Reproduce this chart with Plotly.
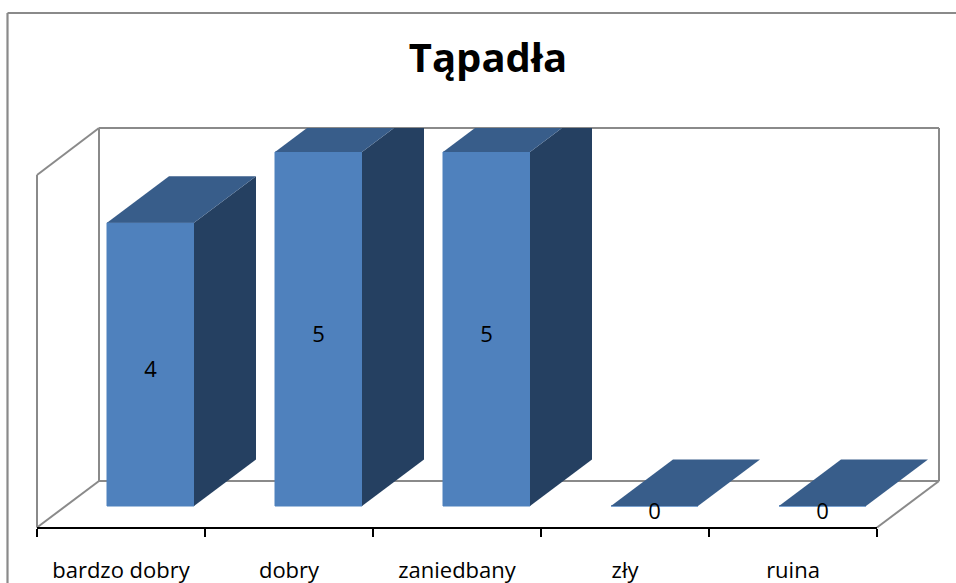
import plotly.graph_objects as go

categories = ["bardzo dobry", "dobry", "zaniedbany", "zły", "ruina"]
values = [4, 5, 5, 0, 0]
title_text = "Tąpadła"

W, H = 956, 583
FRONT_L, FRONT_R, BACK_R = 37, 877, 939
FLOOR_FRONT, FLOOR_BACK, TOP = 527.5, 481, 128
AXIS_PX = 526.5
WALL_L_TOP, BACK_L = 175, 99
BASE_PX, UNIT_PX = 506, 70.8
CAT_PX = (FRONT_R - FRONT_L) / 5
BAR_L_OFFSET, BAR_W = 70, 87
DX, DY = (BACK_R - FRONT_R) / CAT_PX, (FLOOR_FRONT - FLOOR_BACK) / UNIT_PX
GRAY = "#8a8a8a"
FRONT, TOPC, SIDE = "#4f81bd", "#385d8a", "#254061"
FONT = "Open Sans"

y_lo = -(AXIS_PX - BASE_PX) / UNIT_PX
y_hi = (BASE_PX - TOP) / UNIT_PX
x2_hi = (BACK_R - FRONT_L) / CAT_PX
bw = BAR_W / CAT_PX
bl = BAR_L_OFFSET / CAT_PX

fig = go.Figure()
# front faces, on the category axis
fig.add_trace(go.Bar(
    x=categories, y=values, width=bw, offset=bl - 0.5,
    marker=dict(color=FRONT, line=dict(color=FRONT, width=1)),
    xaxis="x", yaxis="y", showlegend=False, hoverinfo="skip",
))
# depth faces and labels, on a numeric overlay axis
for i, v in enumerate(values):
    x0, x1 = i + bl, i + bl + bw
    if v > 0:
        fig.add_trace(go.Scatter(
            x=[x1, x1 + DX, x1 + DX, x1, x1], y=[0, DY, v + DY, v, 0],
            fill="toself", fillcolor=SIDE, mode="lines", line=dict(width=0, color=SIDE),
            xaxis="x2", yaxis="y", showlegend=False, hoverinfo="skip"))
    fig.add_trace(go.Scatter(
        x=[x0, x0 + DX, x1 + DX, x1, x0], y=[v, v + DY, v + DY, v, v],
        fill="toself", fillcolor=TOPC, mode="lines", line=dict(width=0, color=TOPC),
        xaxis="x2", yaxis="y", showlegend=False, hoverinfo="skip"))
fig.add_trace(go.Scatter(
    x=[i + bl + bw / 2 for i in range(len(values))],
    y=[v / 2 - 0.1 for v in values],
    text=[str(v) for v in values], mode="text", textposition="middle center",
    textfont=dict(family=FONT, size=22, color="#000000"),
    xaxis="x2", yaxis="y", showlegend=False, hoverinfo="skip"))

def seg(x0, y0, x1, y1, color=GRAY, width=2):
    return dict(type="line", xref="paper", yref="paper", layer="below",
                x0=x0 / W, x1=x1 / W, y0=1 - y0 / H, y1=1 - y1 / H,
                line=dict(color=color, width=width))

shapes = [
    seg(7.5, 13, W, 13, width=2.2), seg(7.5, 13, 7.5, H, width=2.2),
    seg(BACK_L, TOP, BACK_R, TOP), seg(BACK_L, TOP, BACK_L, FLOOR_BACK),
    seg(BACK_R, TOP, BACK_R, FLOOR_BACK), seg(BACK_L, FLOOR_BACK, BACK_R, FLOOR_BACK),
    seg(FRONT_L, WALL_L_TOP, BACK_L, TOP), seg(FRONT_L, WALL_L_TOP, FRONT_L, FLOOR_FRONT),
    seg(FRONT_L, FLOOR_FRONT, BACK_L, FLOOR_BACK), seg(FRONT_R, FLOOR_FRONT, BACK_R, FLOOR_BACK),
]

fig.update_layout(
    width=W, height=H, margin=dict(l=0, r=0, t=0, b=0),
    paper_bgcolor="white", plot_bgcolor="rgba(0,0,0,0)",
    showlegend=False, barmode="overlay", shapes=shapes,
    title=dict(text=f"<b>{title_text}</b>", x=488 / W, y=1 - 58 / H, xanchor="center", yanchor="middle",
               xref="paper", yref="paper",
               font=dict(family=FONT, size=40, color="#000000")),
    xaxis=dict(domain=[FRONT_L / W, FRONT_R / W], type="category", categoryorder="array",
               categoryarray=categories, range=[-0.5, 4.5], tickson="boundaries", ticks="outside",
               ticklen=8, tickwidth=2, tickcolor="#000000", showline=True, linecolor="#000000",
               linewidth=2, showgrid=False, zeroline=False, anchor="y", ticklabelstandoff=23,
               tickfont=dict(family=FONT, size=22, color="#000000")),
    xaxis2=dict(domain=[FRONT_L / W, BACK_R / W], range=[0, x2_hi], visible=False, anchor="y"),
    yaxis=dict(domain=[1 - AXIS_PX / H, 1 - TOP / H], range=[y_lo, y_hi], visible=False,
               anchor="x"),
)
fig.write_html("out.html", config={"displayModeBar": False},
               post_script="document.body.style.margin='0';")
